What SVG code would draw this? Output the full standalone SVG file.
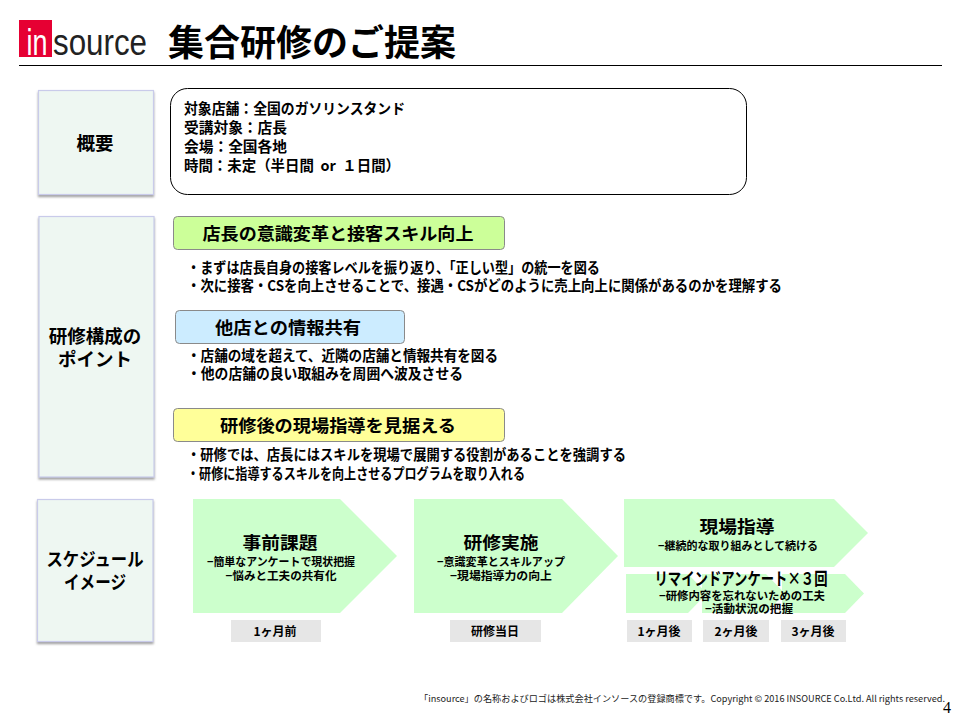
<svg xmlns="http://www.w3.org/2000/svg" width="960" height="720" viewBox="0 0 960 720">
<style>
text{font-family:"Noto Sans CJK JP","Liberation Sans",sans-serif;font-weight:700;fill:#000}
.side{fill:#EEF7F2;stroke:#C9CBEA;stroke-width:1.2;filter:url(#sh)}
.arrow{fill:#CCFFCC}
.when{fill:#E6E6E6}
.b{font-size:14.5px}
.h{font-size:17.5px;text-anchor:middle}
.l{font-size:18.5px;text-anchor:middle}
.s{font-size:11.5px;text-anchor:middle}
.w{font-size:12px;text-anchor:middle}
.ban{stroke:#8a8a8a;stroke-width:1}
</style>
<defs><filter id="sh" x="-10%" y="-10%" width="120%" height="120%"><feDropShadow dx="0" dy="2" stdDeviation="1.2" flood-color="#777" flood-opacity=".7"/></filter></defs>
<g id="logo">
<rect x="19" y="20" width="33" height="37" fill="#E60033"/>
<text x="26.500" y="55" font-size="37" style="font-family:'Liberation Sans',sans-serif;font-weight:400;fill:#fff" textLength="21" lengthAdjust="spacingAndGlyphs">in</text>
<text x="53" y="54.500" font-size="36" style="font-family:'Liberation Sans',sans-serif;font-weight:400;fill:#222" textLength="94" lengthAdjust="spacingAndGlyphs">source</text>
</g>
<g id="title"><text x="168" y="56" font-size="36" textLength="288" lengthAdjust="spacingAndGlyphs">集合研修のご提案</text>
<line x1="19" y1="65.500" x2="942" y2="65.500" stroke="#000"/></g>
<g id="overview-label"><rect class="side" x="38.500" y="90.500" width="115" height="104"/><text class="l" x="95" y="150">概要</text></g>
<g id="overview"><rect x="170.500" y="88.500" width="576" height="106" rx="17" fill="#fff" stroke="#000" stroke-width="1"/>
<text class="b" x="184" y="114" textLength="221" lengthAdjust="spacingAndGlyphs">対象店舗：全国のガソリンスタンド</text>
<text class="b" x="184" y="133" textLength="103" lengthAdjust="spacingAndGlyphs">受講対象：店長</text>
<text class="b" x="184" y="152" textLength="103" lengthAdjust="spacingAndGlyphs">会場：全国各地</text>
<text class="b" x="184" y="171" textLength="216" lengthAdjust="spacingAndGlyphs">時間：未定（半日間&#160;&#160;or&#160;&#160;１日間）</text></g>
<g id="points-label"><rect class="side" x="39" y="216.500" width="115" height="260.500"/><text class="l" x="95" y="343">研修構成の</text><text class="l" x="95" y="366">ポイント</text></g>
<g id="point1"><rect class="ban" x="173.500" y="216.500" width="331" height="33" rx="4" fill="#CCFF99"/><text class="h" x="338" y="240" textLength="271" lengthAdjust="spacingAndGlyphs">店長の意識変革と接客スキル向上</text>
<text class="b" x="187" y="273" textLength="413" lengthAdjust="spacingAndGlyphs">・まずは店長自身の接客レベルを振り返り、「正しい型」の統一を図る</text>
<text class="b" x="187" y="291" textLength="595" lengthAdjust="spacingAndGlyphs">・次に接客・CSを向上させることで、接遇・CSがどのように売上向上に関係があるのかを理解する</text></g>
<g id="point2"><rect class="ban" x="175.500" y="310.500" width="229" height="33" rx="4" fill="#CCECFF"/><text class="h" x="288" y="334" textLength="146" lengthAdjust="spacingAndGlyphs">他店との情報共有</text>
<text class="b" x="187" y="361" textLength="311" lengthAdjust="spacingAndGlyphs">・店舗の域を超えて、近隣の店舗と情報共有を図る</text>
<text class="b" x="187" y="379" textLength="276" lengthAdjust="spacingAndGlyphs">・他の店舗の良い取組みを周囲へ波及させる</text></g>
<g id="point3"><rect class="ban" x="173.500" y="408.500" width="331" height="33" rx="4" fill="#FFFF99"/><text class="h" x="338" y="432" textLength="236" lengthAdjust="spacingAndGlyphs">研修後の現場指導を見据える</text>
<text class="b" x="187" y="460" textLength="439" lengthAdjust="spacingAndGlyphs">・研修では、店長にはスキルを現場で展開する役割があることを強調する</text>
<text class="b" x="187" y="479" textLength="338" lengthAdjust="spacingAndGlyphs">・研修に指導するスキルを向上させるプログラムを取り入れる</text></g>
<g id="schedule-label"><rect class="side" x="37.500" y="499.500" width="115.500" height="142"/><text class="l" x="95" y="566" textLength="97" lengthAdjust="spacingAndGlyphs">スケジュール</text><text class="l" x="95" y="589" textLength="62" lengthAdjust="spacingAndGlyphs">イメージ</text></g>
<g id="step1"><polygon class="arrow" points="193,499 340,499 397,556 340,613 193,613"/>
<text class="h" x="280" y="549" textLength="75" lengthAdjust="spacingAndGlyphs">事前課題</text>
<text class="s" x="281" y="566" textLength="148" lengthAdjust="spacingAndGlyphs">−簡単なアンケートで現状把握</text>
<text class="s" x="281" y="580" textLength="111" lengthAdjust="spacingAndGlyphs">−悩みと工夫の共有化</text>
<rect class="when" x="231" y="620" width="90" height="22"/><text class="w" x="275" y="636">1ヶ月前</text></g>
<g id="step2"><polygon class="arrow" points="414,499 562,499 618,556 562,613 414,613"/>
<text class="h" x="501" y="549" textLength="75" lengthAdjust="spacingAndGlyphs">研修実施</text>
<text class="s" x="501" y="566" textLength="128" lengthAdjust="spacingAndGlyphs">−意識変革とスキルアップ</text>
<text class="s" x="501" y="580" textLength="102" lengthAdjust="spacingAndGlyphs">−現場指導力の向上</text>
<rect class="when" x="450" y="620" width="91" height="22"/><text class="w" x="495" y="636">研修当日</text></g>
<g id="step3"><polygon class="arrow" points="624,499 834,499 868,533 834,567 624,567"/>
<text class="h" x="737" y="533" textLength="75" lengthAdjust="spacingAndGlyphs">現場指導</text>
<text class="s" x="738" y="550" textLength="160" lengthAdjust="spacingAndGlyphs">−継続的な取り組みとして続ける</text></g>
<g id="step4"><polygon class="arrow" points="626,574 688,574 707,593.500 688,613 626,613"/><polygon class="arrow" points="702,574 766,574 785,593.500 766,613 702,613"/><polygon class="arrow" points="782,574 845,574 864,593.500 845,613 782,613"/>
<text class="h" x="741" y="585" textLength="173" lengthAdjust="spacingAndGlyphs">リマインドアンケート×３回</text>
<text class="s" x="742" y="600" textLength="166" lengthAdjust="spacingAndGlyphs">−研修内容を忘れないための工夫</text>
<text class="s" x="749" y="613" textLength="88" lengthAdjust="spacingAndGlyphs">−活動状況の把握</text>
<rect class="when" x="627" y="620" width="65" height="22"/><text class="w" x="659" y="636">1ヶ月後</text>
<rect class="when" x="703" y="620" width="66" height="22"/><text class="w" x="736" y="636">2ヶ月後</text>
<rect class="when" x="781" y="620" width="65" height="22"/><text class="w" x="813" y="636">3ヶ月後</text></g>
<g id="footer"><text x="419" y="702" font-size="9" style="font-weight:400;fill:#222" textLength="526" lengthAdjust="spacingAndGlyphs">「insource」の名称およびロゴは株式会社インソースの登録商標です。Copyright © 2016 INSOURCE Co.Ltd. All rights reserved.</text>
<text x="943" y="713" font-size="16" style="font-family:'Liberation Serif',serif;font-weight:400">4</text></g>
</svg>
